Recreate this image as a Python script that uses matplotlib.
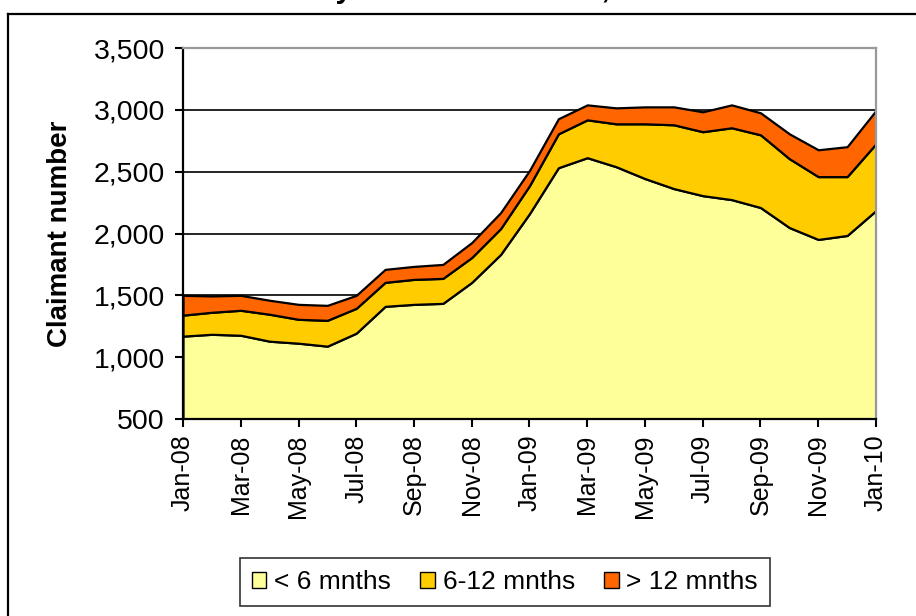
import matplotlib
matplotlib.use("Agg")
import matplotlib.pyplot as plt
from matplotlib.lines import Line2D
import numpy as np

plt.rcParams['font.family'] = ['Liberation Sans', 'DejaVu Sans']

# monthly claimant counts, Jan-08 .. Jan-10
months = ['Jan-08', 'Feb-08', 'Mar-08', 'Apr-08', 'May-08', 'Jun-08', 'Jul-08',
          'Aug-08', 'Sep-08', 'Oct-08', 'Nov-08', 'Dec-08', 'Jan-09', 'Feb-09',
          'Mar-09', 'Apr-09', 'May-09', 'Jun-09', 'Jul-09', 'Aug-09', 'Sep-09',
          'Oct-09', 'Nov-09', 'Dec-09', 'Jan-10']
under_6 = [1170, 1185, 1177, 1129, 1113, 1089, 1194, 1411, 1427, 1435, 1605,
           1831, 2161, 2532, 2613, 2540, 2444, 2363, 2306, 2274, 2210, 2048,
           1952, 1984, 2186]
six_to_12 = [170, 178, 202, 218, 193, 209, 201, 194, 202, 202, 201, 209, 226,
             274, 306, 347, 443, 516, 517, 581, 588, 557, 508, 476, 540]
over_12 = [160, 132, 121, 113, 121, 121, 105, 105, 105, 113, 121, 129, 123,
           122, 121, 129, 137, 145, 161, 185, 178, 201, 217, 242, 269]
series_names = ['< 6 mnths', '6-12 mnths', '> 12 mnths']
colors = ['#FFFF99', '#FFCC00', '#FF6600']

W, H = 916, 616
fig = plt.figure(figsize=(W / 100, H / 100), dpi=100)
ax = fig.add_axes([183 / W, 1 - 419 / H, (876 - 183) / W, (419 - 48) / H])

x = np.arange(len(months))
ax.stackplot(x, under_6, six_to_12, over_12, colors=colors,
             edgecolor='black', linewidth=1.6, labels=series_names, zorder=2)

ax.set_xlim(0, len(months) - 1)
ax.set_ylim(500, 3500)
ax.set_yticks(np.arange(500, 3501, 500))
ax.set_yticklabels([f'{v:,}' for v in range(500, 3501, 500)], fontsize=20.5)
ax.set_xticks(x[::2])
ax.set_xticklabels(months[::2], rotation=90, fontsize=18)
ax.tick_params(axis='both', direction='out', length=6, width=1.5, colors='black')
ax.tick_params(axis='x', pad=5)
ax.tick_params(axis='y', pad=7)

# gridlines sit behind the areas
for v in range(1000, 3001, 500):
    ax.axhline(v, color='black', lw=1.2, zorder=1)

ax.spines['left'].set_linewidth(1.6)
ax.spines['bottom'].set_linewidth(1.6)
for s in ['top', 'right']:
    ax.spines[s].set_color('#999999')
    ax.spines[s].set_linewidth(1.6)

ax.set_ylabel('Claimant number', fontsize=20, fontweight='bold')
ax.yaxis.set_label_coords((73 - 183) / 693, 0.5)

leg = fig.legend(loc='center', bbox_to_anchor=(505 / W, 1 - 582 / H), ncol=3,
                 fontsize=19, frameon=True, fancybox=False, handlelength=0.55,
                 handleheight=0.55, handletextpad=0.3, columnspacing=1.1,
                 borderpad=0.45)
leg.get_frame().set_edgecolor('black')
leg.get_frame().set_linewidth(1.2)
for h in leg.legend_handles:
    h.set_linewidth(1.0)

# outer chart border (right and bottom fall outside the image)
fig.add_artist(Line2D([8 / W, 8 / W], [0, 1 - 14 / H], color='black', lw=1.6))
fig.add_artist(Line2D([8 / W, 1], [1 - 14 / H, 1 - 14 / H], color='black', lw=1.6))

# title cut off at the top, only descenders show
fig.text(93 / W, 1 + 2 / H, 'Claimant count by duration of claim, Jan 2008 - Jan 2010',
         fontsize=21.5, fontweight='bold', va='baseline', ha='left')

fig.savefig('out.png', dpi=100)
